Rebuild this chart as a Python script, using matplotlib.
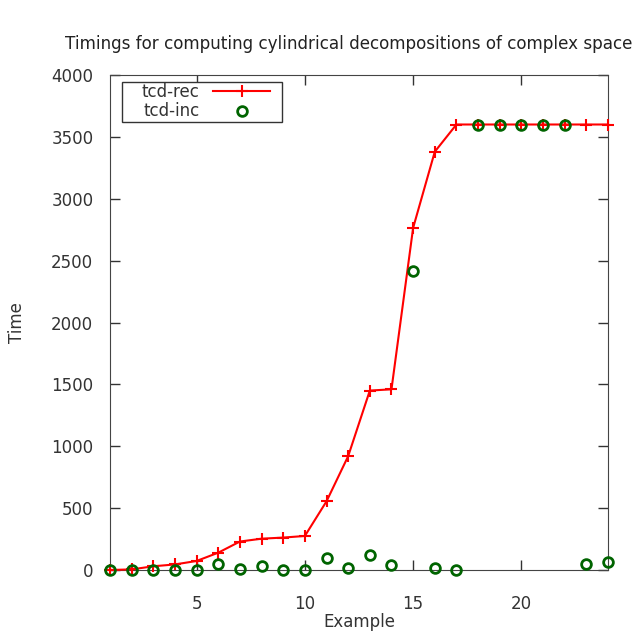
import matplotlib.pyplot as plt
from matplotlib.patches import Rectangle

# Ejemplos y tiempos medidos (en segundos)
ejemplos = list(range(1, 25))
tcd_rec = [0, 5, 30, 45, 73, 140, 230, 253, 262, 275, 555, 920,
           1450, 1460, 2765, 3380, 3600, 3600, 3600, 3600, 3600, 3600, 3600, 3600]
tcd_inc = [0, 0, 0, 0, 0, 48, 5, 32, 0, 0, 100, 14,
           119, 40, 2420, 14, 0, 3600, 3600, 3600, 3600, 3600, 48, 65]

xticks = [5, 10, 15, 20]
yticks = list(range(0, 4001, 500))

titulo = 'Timings for computing cylindrical decompositions of complex space'

plt.rcParams['font.family'] = 'DejaVu Sans'

W, H = 644, 642
fig = plt.figure(figsize=(W / 100, H / 100), dpi=100)
ax = fig.add_axes([110 / W, 72 / H, 498 / W, 495 / H])

ax.plot(ejemplos, tcd_rec, color='red', linewidth=1.5, marker='+',
        markersize=9, markeredgewidth=1.5, label='tcd-rec', zorder=3,
        clip_on=False)
ax.plot(ejemplos, tcd_inc, linestyle='none', marker='o', markersize=7,
        markerfacecolor='none', markeredgecolor='#006400', markeredgewidth=2,
        label='tcd-inc', zorder=4, clip_on=False)

ax.set_xlim(1, 24)
ax.set_ylim(0, 4000)
ax.set_xticks(xticks)
ax.set_yticks(yticks)
ax.tick_params(direction='in', length=7, width=1, top=True, right=True,
               labelsize=12, colors='#333333')
ax.tick_params(axis='y', pad=12)
ax.tick_params(axis='x', pad=18)
for s in ax.spines.values():
    s.set_color('#444444')

ax.set_xlabel('Example', fontsize=12, color='#333333', labelpad=0)
ax.set_ylabel('Time', fontsize=12, color='#333333', labelpad=18)

# titulo alineado a la izquierda para que quepa entero
fig.text(65 / W, 1 - 44 / H, titulo, fontsize=12.1, color='#222222',
         ha='left', va='center')

# marco de la leyenda (estilo gnuplot, con más margen a los lados)
ax.add_patch(Rectangle((12 / 498, 1 - 47 / 495), 160 / 498, 40 / 495,
                       transform=ax.transAxes, facecolor='white',
                       edgecolor='#333333', linewidth=1, zorder=5,
                       clip_on=False))
leg = ax.legend(loc='upper left', bbox_to_anchor=(32 / 498, 1 - 8 / 495),
                borderaxespad=0, borderpad=0, markerfirst=False,
                frameon=False, fontsize=12, handlelength=3.4,
                labelspacing=0.08, handletextpad=0.8)
leg.set_zorder(6)
for t in leg.get_texts():
    t.set_color('#333333')

fig.savefig('out.png', dpi=100)
